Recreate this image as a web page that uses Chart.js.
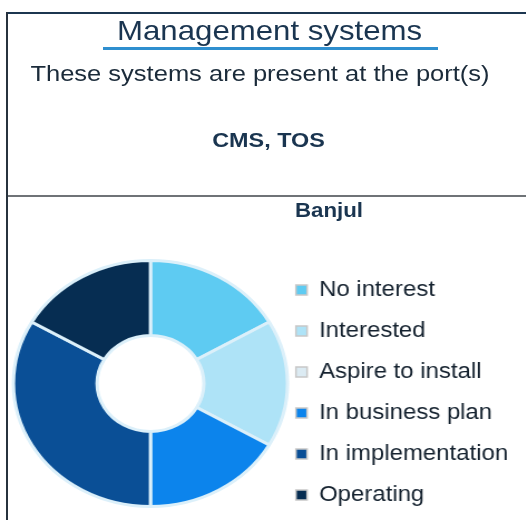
<!DOCTYPE html>
<html>
<head>
<meta charset="utf-8">
<script src="https://cdn.jsdelivr.net/npm/chart.js@4/dist/chart.umd.min.js"></script>
<style>
  html, body { margin: 0; padding: 0; background: #fff; overflow: hidden; }
  body { width: 526px; height: 520px; position: relative; font-family: 'Liberation Sans', Arial, sans-serif; }
  /* the original picture is stretched sideways, so everything is drawn narrow then widened */
  #wrap { position: absolute; left: 0; top: 0; width: 472px; height: 520px; transform: scaleX(1.114); transform-origin: 0 0; }
  .txt { position: absolute; white-space: nowrap; line-height: 1; text-align: center; }
  .line { position: absolute; }
  #chart { position: absolute; left: 0; top: 198px; }
</style>
</head>
<body>
<div id="wrap">
  <div class="txt" style="left:-8px;width:500px;top:16.8px;font-size:28px;color:#1a3550">Management systems</div>
  <div class="txt" style="left:-16.6px;width:500px;top:62.2px;font-size:22.9px;color:#1b2b3a">These systems are present at the port(s)</div>
  <div class="txt" style="left:-9px;width:500px;top:129.2px;font-size:21px;font-weight:bold;color:#1a3550">CMS, TOS</div>
  <div class="txt" style="left:45.3px;width:500px;top:199.6px;font-size:20px;font-weight:bold;color:#1a3550">Banjul</div>
  <canvas id="chart" width="472" height="402"></canvas>
</div>
<div class="line" style="left:6px;top:12px;width:520px;height:2px;background:#1c3650"></div>
<div class="line" style="left:6px;top:12px;width:2px;height:508px;background:#27323d"></div>
<div class="line" style="left:8px;top:195px;width:518px;height:2px;background:#6f7377"></div>
<div class="line" style="left:103px;top:47px;width:335px;height:3px;background:#2f8fcf"></div>
<script>
const stages = ['No interest', 'Interested', 'Aspire to install', 'In business plan', 'In implementation', 'Operating']
const counts = [1, 1, 0, 1, 2, 1]
const sliceColors = ['#5ecbf2', '#aee3f7', '#dcebf3', '#0c84ec', '#0a4f96', '#062d52']

Chart.defaults.font.family = "'Liberation Sans', Arial, sans-serif"

const baseLabels = Chart.overrides.doughnut.plugins.legend.labels.generateLabels

new Chart(document.getElementById('chart'), {
  type: 'doughnut',
  data: {
    labels: stages,
    datasets: [{
      data: counts,
      backgroundColor: sliceColors,
      borderColor: '#dcf0fa',
      borderWidth: 3,
      hoverOffset: 0,
      clip: false
    }]
  },
  options: {
    responsive: false,
    animation: false,
    radius: 123,
    cutout: '39%',
    layout: {
      padding: { left: 24, right: 5.9, top: 10, bottom: 41 }
    },
    plugins: {
      tooltip: { enabled: false },
      legend: {
        position: 'right',
        // empty title only nudges the list down a little
        title: { display: true, text: '', font: { size: 18, lineHeight: 1 }, padding: 0 },
        labels: {
          boxWidth: 10,
          boxHeight: 10,
          padding: 19.5,
          color: '#15222f',
          font: { size: 21.5 },
          generateLabels: chart => baseLabels(chart).map(l => ({ ...l, strokeStyle: '#c8c8c8', lineWidth: 1.5 }))
        }
      }
    }
  }
})
</script>
</body>
</html>
